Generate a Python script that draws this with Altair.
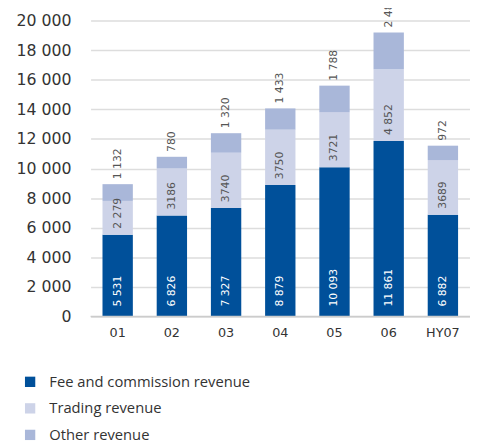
import altair as alt
import pandas as pd

periods = ["01", "02", "03", "04", "05", "06", "HY07"]
series = ["Fee and commission revenue", "Trading revenue", "Other revenue"]
fee = [5531, 6826, 7327, 8879, 10093, 11861, 6882]
trading = [2279, 3186, 3740, 3750, 3721, 4852, 3689]
other = [1132, 780, 1320, 1433, 1788, 2488, 972]
fee_labels = ["5 531", "6 826", "7 327", "8 879", "10 093", "11 861", "6 882"]
trading_labels = ["2 279", "3186", "3740", "3750", "3721", "4 852", "3689"]
other_labels = ["1 132", "780", "1 320", "1 433", "1 788", "2 488", "972"]
y_ticks = [0, 2000, 4000, 6000, 8000, 10000, 12000, 14000, 16000, 18000, 20000]
colors = ["#00509A", "#CDD3E8", "#A9B7D9"]

rows = []
for i, p in enumerate(periods):
    for k, (vals, labs) in enumerate([(fee, fee_labels), (trading, trading_labels), (other, other_labels)]):
        rows.append({"period": p, "series": series[k], "value": vals[i],
                     "label": labs[i], "order": k})
df = pd.DataFrame(rows)

base = alt.Chart(df).transform_stack(
    stack="value", groupby=["period"], as_=["y0", "y1"],
    sort=[alt.SortField("order", order="ascending")]
)

yscale = alt.Scale(domain=[0, 20000], nice=False)
yaxis = alt.Axis(values=y_ticks, tickCount=11,
                 labelExpr="replace(format(datum.value, ','), ',', ' ')",
                 labelOverlap=False,
                 labelFontSize=16, labelFont="DejaVu Sans", labelColor="#333333",
                 ticks=False, domain=False, labelPadding=20,
                 gridColor="#DDDDDD", gridWidth=1.5)
xscale = alt.Scale(paddingInner=0.44, paddingOuter=0.22)
xaxis = alt.Axis(labelAngle=0, labelFontSize=13, labelColor="#333333",
                 labelFont="DejaVu Sans", ticks=False, domain=False,
                 labelPadding=10, grid=False)


def xe():
    return alt.X("period:N", sort=periods, title=None, scale=xscale, axis=xaxis)


def ye(field):
    return alt.Y(field, title=None, scale=yscale, axis=yaxis)


bars = base.mark_bar().encode(
    x=xe(),
    y=ye("y0:Q"),
    y2="y1:Q",
    color=alt.Color("series:N", sort=series,
                    scale=alt.Scale(domain=series, range=colors),
                    legend=alt.Legend(title=None, orient="none", legendX=-69, legendY=360,
                                      direction="vertical", symbolType="square",
                                      symbolSize=110, symbolStrokeWidth=0,
                                      labelFontSize=15, labelFont="Open Sans",
                                      labelColor="#333333", labelOffset=12,
                                      labelLimit=400,
                                      rowPadding=11, padding=0)),
    order=alt.Order("order:Q"),
)

fee_text = base.transform_filter(alt.datum.order == 0).mark_text(
    angle=270, align="left", baseline="middle", dx=10, fontSize=11,
    font="DejaVu Sans", color="white"
).encode(x=xe(), y=ye("y0:Q"), text="label:N")

trade_text = base.transform_filter(alt.datum.order == 1).mark_text(
    angle=270, align="left", baseline="middle", dx=6, fontSize=11,
    font="DejaVu Sans", color="#555555"
).encode(x=xe(), y=ye("y0:Q"), text="label:N")

other_text = base.transform_filter(alt.datum.order == 2).mark_text(
    angle=270, align="left", baseline="middle", dx=5, fontSize=11,
    font="DejaVu Sans", color="#555555"
).encode(x=xe(), y=ye("y1:Q"), text="label:N")

zero = alt.Chart(pd.DataFrame({"z": [0]})).mark_rule(color="#CCCCCC", strokeWidth=1.5).encode(
    y=ye("z:Q"))

chart = alt.layer(bars, zero, fee_text, trade_text, other_text).properties(
    width=386, height=301,
    autosize=alt.AutoSizeParams(type="none"),
    padding={"left": 84, "top": 9, "right": 0, "bottom": 128},
).configure_view(stroke=None)

chart.save("out.html", embed_options={"renderer": "svg", "actions": False})
